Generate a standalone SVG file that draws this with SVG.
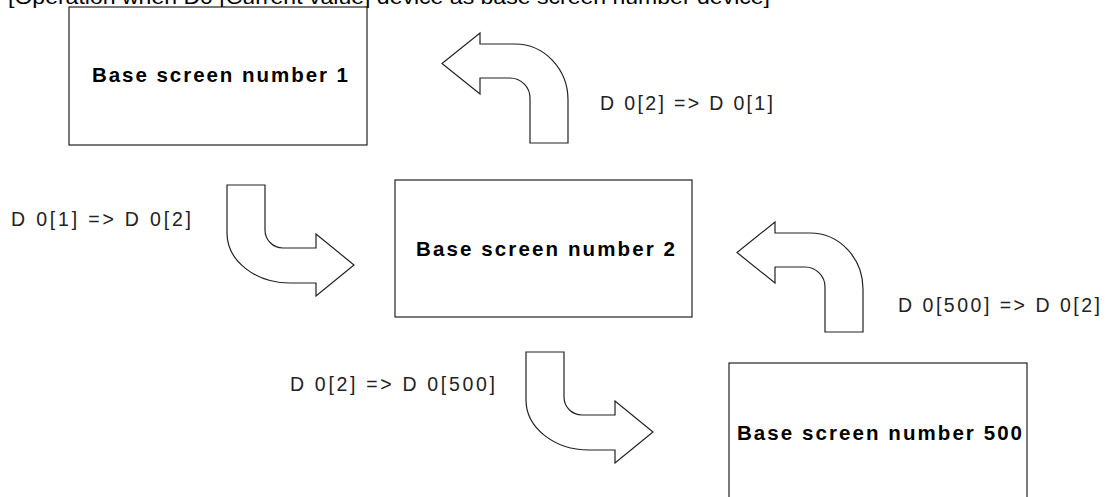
<svg xmlns="http://www.w3.org/2000/svg" width="1111" height="497" viewBox="0 0 1111 497">
<style>
.box{fill:#fff;stroke:#222;stroke-width:1.2}
.arr{fill:#fff;stroke:#222;stroke-width:1.2;stroke-linejoin:miter}
.bt{font-family:"Liberation Sans",Arial,sans-serif;font-weight:bold;font-size:20.5px;fill:#000}
.lb{font-family:"Liberation Sans",Arial,sans-serif;font-size:19.5px;fill:#222}
.tt{font-family:"Liberation Sans",Arial,sans-serif;font-size:21px;fill:#000}
</style>
<defs>
<path id="upleft" d="M 530 143 L 530 98 A 20 20 0 0 0 510 78 L 480 78 L 480 94 L 442 63.5 L 480 33 L 480 44 L 515 44 A 53 56 0 0 1 568 100 L 568 143 Z"/>
<path id="downright" d="M 227 185 L 265 185 L 265 230 A 18 18 0 0 0 283 248 L 316 248 L 316 234 L 354 265 L 316 296 L 316 283 L 290 283 A 63 50 0 0 1 227 233 Z"/>
</defs>
<text class="tt" x="8" y="4" textLength="762" lengthAdjust="spacingAndGlyphs">[Operation when D0 [Current value] device as base screen number device]</text>
<g id="node-base1">
<rect class="box" x="69" y="7" width="298" height="138"/>
<text class="bt" x="92" y="82" textLength="256" lengthAdjust="spacing">Base screen number 1</text>
</g>
<g id="node-base2">
<rect class="box" x="395" y="180" width="297" height="137"/>
<text class="bt" x="416" y="256" textLength="259" lengthAdjust="spacing">Base screen number 2</text>
</g>
<g id="node-base500">
<rect class="box" x="729" y="363" width="298" height="150"/>
<text class="bt" x="737" y="440" textLength="285" lengthAdjust="spacing">Base screen number 500</text>
</g>
<g id="connectors">
<use href="#upleft" class="arr"/>
<use href="#upleft" class="arr" transform="translate(295,189)"/>
<use href="#downright" class="arr"/>
<use href="#downright" class="arr" transform="translate(299,167)"/>
<text class="lb" x="600" y="110" textLength="173" lengthAdjust="spacing">D 0[2] =&gt; D 0[1]</text>
<text class="lb" x="11" y="226" textLength="180" lengthAdjust="spacing">D 0[1] =&gt; D 0[2]</text>
<text class="lb" x="898" y="312" textLength="202" lengthAdjust="spacing">D 0[500] =&gt; D 0[2]</text>
<text class="lb" x="290" y="391" textLength="205" lengthAdjust="spacing">D 0[2] =&gt; D 0[500]</text>
</g>
</svg>
